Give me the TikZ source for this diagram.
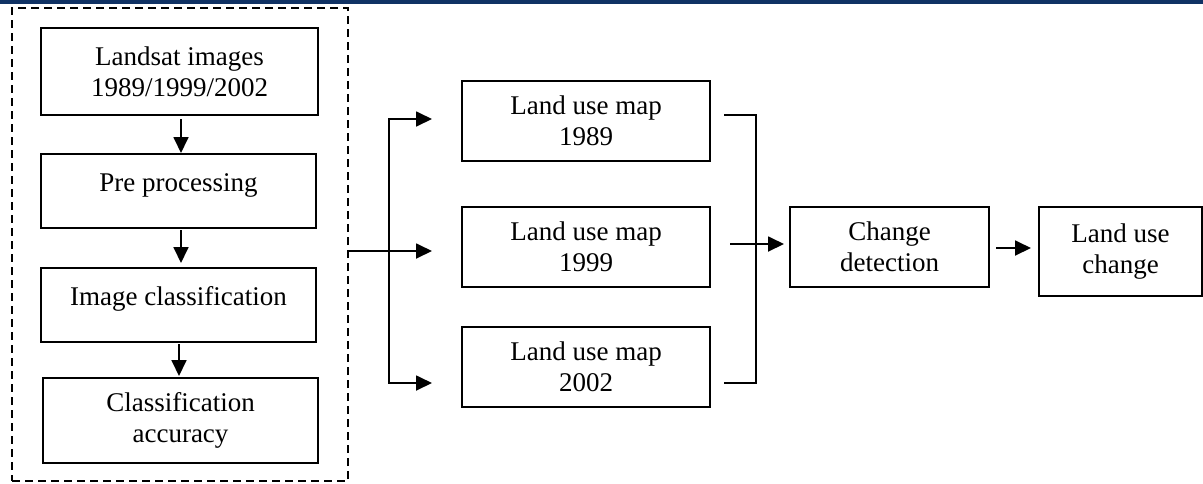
\documentclass[tikz,border=0pt]{standalone}
\usepackage{fontspec}
\setmainfont{Liberation Serif}
\usetikzlibrary{arrows.meta}
\definecolor{headerblue}{RGB}{16,50,100}
\tikzset{
stepbox/.style={
	  draw, line width=1pt, inner sep=0pt, align=center,
	    font=\fontsize{13.5}{15.5}\selectfont},
oneline/.style={text height=5pt, text depth=5pt},
grpbox/.style={draw, dashed, dash pattern=on 4pt off 2.5pt, line width=0.8pt,
	  inner sep=0pt, minimum width=168pt, minimum height=236.5pt},
link/.style={line width=0.9pt},
arr/.style={link, -{Triangle[length=8pt,width=7.5pt]}}
}

\begin{document}
\begin{tikzpicture}[x=0.5pt, y=-0.5pt]
	\useasboundingbox (0,0) rectangle (1203,483);
	\fill[headerblue] (0,0) rectangle (1203,4);
	\node[grpbox] (grp) at (180,244.5) {};
	\node[stepbox, minimum width=138.5pt, minimum height=43.5pt] (img) at (179.5,71.5) {Landsat images\\1989/1999/2002};
	\node[stepbox, oneline, minimum width=137.5pt, minimum height=37pt] (pre) at (178.5,191) {Pre processing};
	\node[stepbox, oneline, minimum width=137.5pt, minimum height=37pt] (cls) at (178.5,305) {Image classification};
	\node[stepbox, minimum width=137.5pt, minimum height=42.5pt] (acc) at (180.5,420.5) {Classification\\accuracy};
	\node[stepbox, minimum width=124pt, minimum height=40pt] (m89) at (586,121) {Land use map\\1989};
	\node[stepbox, minimum width=124pt, minimum height=40pt] (m99) at (586,247) {Land use map\\1999};
	\node[stepbox, minimum width=124pt, minimum height=40pt] (m02) at (586,367) {Land use map\\2002};
	\node[stepbox, minimum width=99.5pt, minimum height=40pt] (chg) at (889.5,247) {Change\\detection};
	\node[stepbox, minimum width=81.5pt, minimum height=44.5pt] (luc) at (1120.5,251.5) {Land use\\change};

	\draw[arr, shorten <=1.5pt] ([xshift=0.75pt]img.south) -- ([xshift=0.75pt]img.south |- pre.north);
	\draw[arr, shorten <=0.5pt, shorten >=2pt] ([xshift=1.25pt]pre.south) -- ([xshift=1.25pt]pre.south |- cls.north);
	\draw[arr, shorten <=0.5pt, shorten >=0.5pt] ([xshift=0.25pt]cls.south) -- ([xshift=0.25pt]cls.south |- acc.north);

	\coordinate (fork) at (389,251);
	\draw[link] (grp.east |- fork) -- (fork);
	\draw[arr, shorten >=14.5pt] (fork) |- ([yshift=1pt]m89.west);
	\draw[arr, shorten >=14.5pt] (fork) -- (fork -| m99.west);
	\draw[arr, shorten >=14.5pt] (fork) |- ([yshift=-8pt]m02.west);

	\draw[link] ([xshift=6.5pt,yshift=3pt]m89.east) -| ([xshift=22.5pt,yshift=-8pt]m02.east) -- ([xshift=6.5pt,yshift=-8pt]m02.east);
	\draw[arr, shorten >=2.5pt] ([xshift=9.5pt,yshift=1.5pt]m99.east) -- ([yshift=1.5pt]chg.west);
	\draw[arr, shorten <=3pt, shorten >=3.5pt] ([yshift=-0.5pt]chg.east) -- ([yshift=-0.5pt]chg.east -| luc.west);
\end{tikzpicture}
\end{document}
